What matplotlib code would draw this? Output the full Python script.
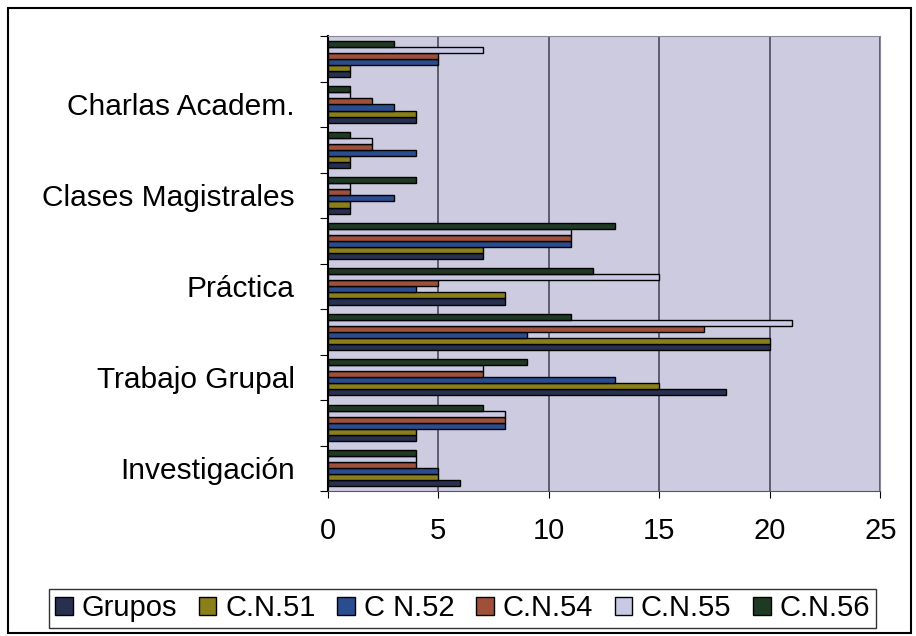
import matplotlib.pyplot as plt
import numpy as np
from matplotlib.patches import Rectangle

# categorias de abajo hacia arriba (Excel solo rotula una de cada dos)
categorias = ["Investigación", "", "Trabajo Grupal", "", "Práctica", "",
              "Clases Magistrales", "", "Charlas Academ.", ""]
series = ["Grupos", "C.N.51", "C N.52", "C.N.54", "C.N.55", "C.N.56"]

grupos = [6, 4, 18, 20, 8, 7, 1, 1, 4, 1]
cn51 = [5, 4, 15, 20, 8, 7, 1, 1, 4, 1]
cn52 = [5, 8, 13, 9, 4, 11, 3, 4, 3, 5]
cn54 = [4, 8, 7, 17, 5, 11, 1, 2, 2, 5]
cn55 = [4, 8, 7, 21, 15, 11, 1, 2, 1, 7]
cn56 = [4, 7, 9, 11, 12, 13, 4, 1, 1, 3]
valores = [grupos, cn51, cn52, cn54, cn55, cn56]

colores = ["#27304f", "#8a7f1a", "#2a4d8f", "#a0503a", "#c9c9e6", "#1f3a24"]
xticks = [0, 5, 10, 15, 20, 25]

plt.rcParams['font.family'] = ['Liberation Sans', 'DejaVu Sans']

fig = plt.figure(figsize=(9.16, 6.36), dpi=100)
fig.patch.set_facecolor('white')
# marco exterior del grafico
fig.patches.append(Rectangle((0.009, 0.004), 0.985, 0.983, transform=fig.transFigure,
                             fill=False, edgecolor='black', linewidth=1.5))

ax = fig.add_axes([0.358, 0.228, 0.603, 0.715])
ax.set_facecolor('#cccbe0')

y = np.arange(len(categorias))
w = 1 / 7.5
for i, (nombre, vals) in enumerate(zip(series, valores)):
    ax.barh(y + (i - 2.5) * w, vals, height=w, color=colores[i],
            edgecolor='black', linewidth=1.0, label=nombre, zorder=3)

ax.set_xlim(0, 25)
ax.set_ylim(-0.5, len(categorias) - 0.5)
ax.set_xticks(xticks)
ax.tick_params(axis='x', labelsize=21, length=5, pad=14)
ax.xaxis.grid(True, color='#4a4a5a', linewidth=1.2, zorder=1)

# marcas en los limites de categoria, rotulos centrados
ax.set_yticks(np.arange(-0.5, len(categorias), 1.0))
ax.set_yticklabels([])
ax.tick_params(axis='y', which='major', length=6, direction='out')
ax.set_yticks(y, minor=True)
ax.set_yticklabels(categorias, minor=True)
ax.tick_params(axis='y', which='minor', length=0, labelsize=21.5, pad=24)

for s in ['top', 'right']:
    ax.spines[s].set_color('#888899')
ax.spines['left'].set_linewidth(1.5)
ax.spines['bottom'].set_color('#555566')

fig.legend(loc='lower center', ncol=6, bbox_to_anchor=(0.505, 0.003),
           fontsize=21, frameon=True, fancybox=False, edgecolor='black',
           handlelength=0.6, handleheight=0.6, handletextpad=0.3,
           columnspacing=0.75, borderpad=0.2, borderaxespad=0.2)

fig.savefig('out.png', dpi=100)
